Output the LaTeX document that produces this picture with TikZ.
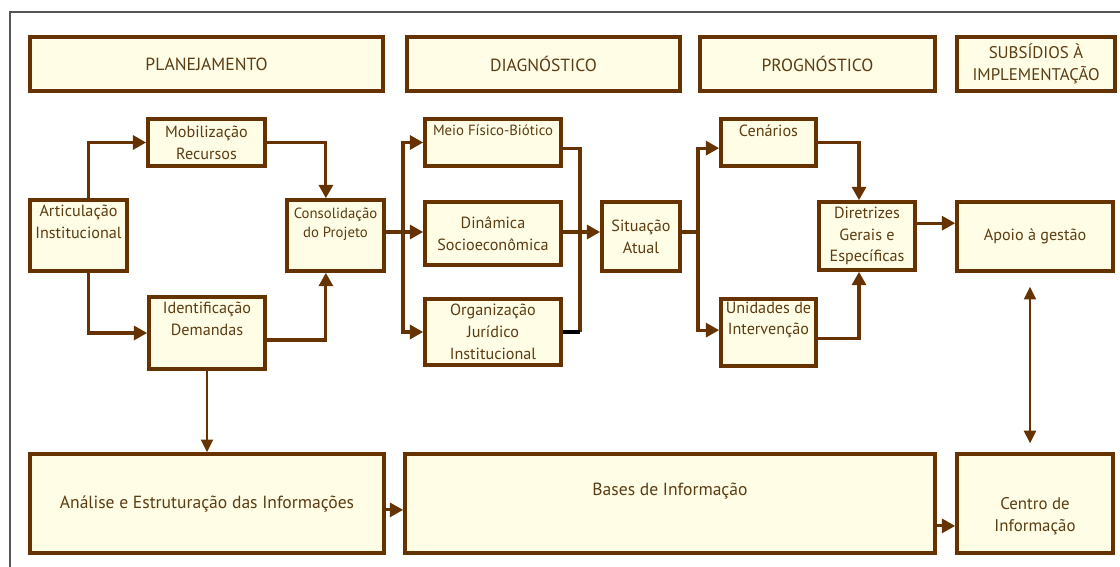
\documentclass[tikz,border=0pt]{standalone}
\usepackage{fontspec}
\setmainfont{PT Sans}
\usetikzlibrary{arrows.meta,positioning,calc}
\definecolor{BoxBrown}{RGB}{102,51,0}
\definecolor{BoxFill}{RGB}{255,253,230}
\definecolor{TextBrown}{RGB}{92,60,18}
\definecolor{FrameGray}{RGB}{85,85,85}

\begin{document}
\begin{tikzpicture}[x=0.25mm, y=-0.25mm,
    box/.style={draw=BoxBrown, fill=BoxFill, line width=2.6pt, text=TextBrown, align=center, inner sep=1pt, font=\fontsize{11.5}{15.5}\selectfont},
    head/.style={box, minimum height=13.5mm, font=\fontsize{12.5}{15.5}\selectfont},
    flow/.style={draw=BoxBrown, line width=2.2pt, -{Triangle[length=9.5pt,width=10pt]}},
    thinflow/.style={draw=BoxBrown, line width=1.6pt, -{Triangle[length=9pt,width=8.5pt]}},
    link/.style={draw=BoxBrown, line width=2.2pt}]
  \useasboundingbox (0,0) rectangle (1120,567);
  \draw[FrameGray, line width=1.2pt] (10,567) -- (10,12) -- (1120,12);

  % fases
  \node[head, minimum width=88.25mm] (plan) at (206.5,64) {PLANEJAMENTO};
  \node[head, minimum width=68.25mm] (diag) at (543.5,64) {DIAGNÓSTICO};
  \node[head, minimum width=58.75mm] (prog) at (817.5,64) {PROGNÓSTICO};
  \node[head, minimum width=39.5mm, font=\fontsize{12}{15.5}\selectfont] (subs) at (1036,64) {SUBSÍDIOS À\\ IMPLEMENTAÇÃO};

  % planejamento
  \node[box, minimum width=29.25mm, minimum height=11.75mm] (mob) at (206.5,142.5) {Mobilização\\ Recursos};
  \node[box, minimum width=24.25mm, minimum height=17.75mm] (art) at (78.5,235.5) {Articulação\\ Institucional\\ \strut};
  \node[box, minimum width=24.25mm, minimum height=17.75mm, font=\fontsize{10.5}{14}\selectfont] (cons) at (335.5,235.5) {Consolidação\\ do Projeto\\ \strut};
  \node[box, minimum width=29mm, minimum height=18mm] (ident) at (207,333) {Identificação\\ Demandas\\ \strut};

  % diagnostico
  \node[box, minimum width=34mm, minimum height=11.75mm, font=\fontsize{10.5}{14}\selectfont] (meio) at (493,142.5) {Meio Físico-Biótico\\ \strut};
  \node[box, minimum width=34mm, minimum height=15.75mm] (din) at (493,233.5) {Dinâmica\\ Socioeconômica};
  \node[box, minimum width=34mm, minimum height=16.5mm] (org) at (493,332) {Organização\\ Jurídico\\ Institucional};
  \node[box, minimum width=19.5mm, minimum height=17.25mm] (sit) at (641,236.5) {Situação\\ Atual};

  % prognostico
  \node[box, minimum width=23.75mm, minimum height=11.75mm, font=\fontsize{11.5}{13}\selectfont] (cen) at (768.5,142.5) {Cenários\\ \strut};
  \node[box, minimum width=23.75mm, minimum height=16.75mm] (unid) at (768.5,332.5) {Unidades de\\ Intervenção\\ \strut};
  \node[box, minimum width=24mm, minimum height=17mm] (dir) at (867,236) {Diretrizes\\ Gerais e\\ Específicas};
  \node[box, minimum width=39mm, minimum height=17.25mm] (apoio) at (1035,236.5) {Apoio à gestão};

  % bases
  \node[box, minimum width=88.5mm, minimum height=24.75mm, font=\fontsize{12.5}{15.5}\selectfont] (anal) at (207,503.5) {Análise e Estruturação das Informações};
  \node[box, minimum width=132.5mm, minimum height=24.75mm, font=\fontsize{12.5}{15.5}\selectfont] (bases) at (670,503.5) {Bases de Informação\\ \strut};
  \node[box, minimum width=39mm, minimum height=24.75mm, font=\fontsize{12}{15.5}\selectfont] (centro) at (1035,503.5) {\strut\\ Centro de\\ Informação};

  \coordinate (splitA) at (403,232);
  \coordinate (joinA) at (580,232);
  \coordinate (splitB) at (698,232);

  % ligacoes do planejamento
  \draw[flow] ([xshift=2.6mm]art.north) |- (mob.west);
  \draw[flow] (mob.east) -| ([xshift=-2.4mm]cons.north);
  \draw[flow] ([xshift=2.6mm]art.south) |- (ident.west);
  \draw[flow] ([yshift=-1.75mm]ident.east) -| ([xshift=-2.4mm]cons.south);
  \draw[thinflow] (ident.south) -- (anal.north);

  % ligacoes do diagnostico
  \draw[flow] (cons.east |- splitA) -- (din.west |- splitA);
  \draw[flow] (splitA) |- (meio.west);
  \draw[flow] (splitA) |- (org.west);
  \draw[link] ([yshift=-1.4mm]meio.east) -| (joinA);
  \draw[link] (joinA) -- (joinA |- org.east);
  \draw[link, draw=black] (org.east) -- (joinA |- org.east);
  \draw[flow] (din.east |- joinA) -- (sit.west |- joinA);

  % ligacoes do prognostico
  \draw[link] (sit.east |- splitB) -- (splitB);
  \draw[flow] (splitB) |- ([yshift=-1.4mm]cen.west);
  \draw[flow] (splitB) |- ([yshift=0.6mm]unid.west);
  \draw[flow] (cen.east) -| ([xshift=-2mm]dir.north);
  \draw[flow] ([yshift=-1.4mm]unid.east) -| ([xshift=-2mm]dir.south);
  \draw[flow] ([yshift=3.2mm]dir.east) -- ([yshift=3.2mm]dir.east -| apoio.west);

  % ligacoes das bases
  \draw[thinflow, {Triangle[length=9pt,width=8.5pt]}-{Triangle[length=9pt,width=8.5pt]}, shorten <=3.5mm, shorten >=2.2mm] ([xshift=-1.25mm]apoio.south) -- ([xshift=-1.25mm]centro.north);
  \draw[flow] ([yshift=-1.6mm]anal.east) -- ([yshift=-1.6mm]anal.east -| bases.west);
  \draw[flow] ([yshift=-5.6mm]bases.east) -- ([yshift=-5.6mm]bases.east -| centro.west);
\end{tikzpicture}
\end{document}
